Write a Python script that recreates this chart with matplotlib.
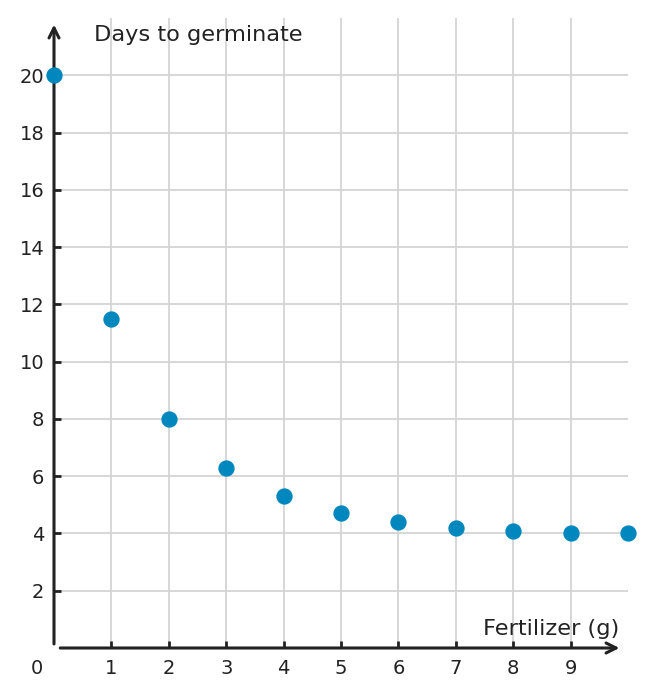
import matplotlib.pyplot as plt

# data
fertilizer = [0, 1, 2, 3, 4, 5, 6, 7, 8, 9, 10]
days = [20, 11.5, 8, 6.3, 5.3, 4.7, 4.4, 4.2, 4.1, 4.03, 4.0]
x_ticks = [1, 2, 3, 4, 5, 6, 7, 8, 9]
y_ticks = [2, 4, 6, 8, 10, 12, 14, 16, 18, 20]

ink = '#222222'
dot = '#0088BE'
grid = '#d4d4d4'

fig = plt.figure(figsize=(6.53, 6.97), dpi=100)
ax = fig.add_axes([54 / 653, 49 / 697, 574 / 653, 630 / 697])
ax.set_xlim(0, 10)
ax.set_ylim(0, 22)

for s in ax.spines.values():
    s.set_visible(False)

# grid
for xv in x_ticks:
    ax.axvline(xv, color=grid, lw=1.3, zorder=0)
for yv in y_ticks:
    ax.axhline(yv, color=grid, lw=1.3, zorder=0)

# axes with arrows
ax.annotate('', xy=(0.99, 0), xytext=(0.006, 0), xycoords='axes fraction',
            arrowprops=dict(arrowstyle='->', color=ink, lw=2.2, mutation_scale=18),
            annotation_clip=False)
ax.annotate('', xy=(0, 0.994), xytext=(0, 0.002), xycoords='axes fraction',
            arrowprops=dict(arrowstyle='->', color=ink, lw=2.2, mutation_scale=18),
            annotation_clip=False)

ax.set_xticks(x_ticks)
ax.set_yticks(y_ticks)
ax.tick_params(axis='both', direction='in', length=5, width=2, color=ink,
               labelsize=14, labelcolor=ink)
ax.tick_params(axis='x', pad=8)
ax.tick_params(axis='y', pad=7)

ax.scatter(fertilizer, days, s=138, color=dot, zorder=5, clip_on=False, linewidths=0)

ax.text(-0.3, -0.7, '0', fontsize=14, color=ink, ha='center', va='center', clip_on=False)
ax.text(0.7, 21.4, 'Days to germinate', fontsize=16.2, color=ink, ha='left', va='center')
ax.text(9.85, 0.68, 'Fertilizer (g)', fontsize=16.2, color=ink, ha='right', va='center')

fig.savefig('out.png', dpi=100)
